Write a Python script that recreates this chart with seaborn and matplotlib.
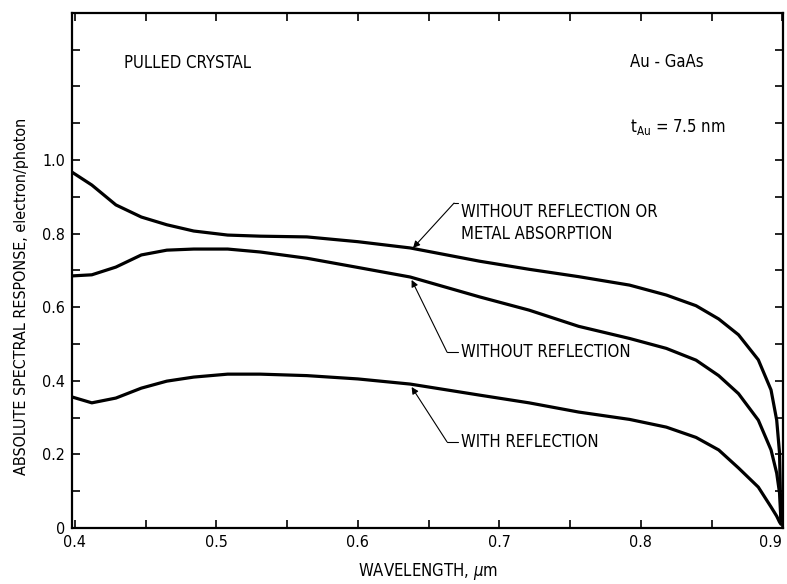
import matplotlib
matplotlib.use('Agg')
import matplotlib.pyplot as plt
import numpy as np
import pandas as pd
import seaborn as sns

sns.set_style('ticks', {'axes.edgecolor': 'black', 'text.color': 'black',
                        'axes.labelcolor': 'black', 'xtick.color': 'black',
                        'ytick.color': 'black'})
plt.rcParams['font.family'] = ['DejaVu Sans']
plt.rcParams['font.stretch'] = 'condensed'

# values
wavelength = [0.398, 0.412, 0.429, 0.447, 0.465, 0.484, 0.508, 0.531, 0.564, 0.600,
              0.637, 0.686, 0.721, 0.756, 0.792, 0.818, 0.839, 0.855, 0.869, 0.883,
              0.892, 0.896, 0.898, 0.899]
no_refl_no_abs = [0.967, 0.932, 0.878, 0.845, 0.824, 0.807, 0.796, 0.793, 0.791, 0.778,
                  0.761, 0.725, 0.703, 0.683, 0.660, 0.633, 0.604, 0.568, 0.525, 0.457,
                  0.375, 0.293, 0.204, 0.020]
no_refl = [0.685, 0.688, 0.709, 0.742, 0.755, 0.758, 0.758, 0.750, 0.733, 0.708,
           0.682, 0.628, 0.592, 0.548, 0.515, 0.488, 0.456, 0.414, 0.365, 0.293,
           0.212, 0.149, 0.095, 0.020]
with_refl = [0.356, 0.340, 0.353, 0.380, 0.399, 0.410, 0.418, 0.418, 0.414, 0.405,
             0.391, 0.361, 0.340, 0.315, 0.295, 0.274, 0.246, 0.212, 0.163, 0.111,
             0.057, 0.032, 0.016, 0.010]

df = pd.DataFrame({'wavelength': wavelength,
                   'a': no_refl_no_abs,
                   'b': no_refl,
                   'c': with_refl}).melt(id_vars='wavelength', var_name='curve',
                                         value_name='response')

fig = plt.figure(figsize=(7.87, 5.84), dpi=100)
ax = fig.add_axes([0.0915, 0.096, 0.9035, 0.882])

sns.lineplot(data=df, x='wavelength', y='response', hue='curve', units='curve',
             estimator=None, sort=False, palette=['black'] * 3, linewidth=2.3,
             legend=False, ax=ax)

ax.set_xlim(0.398, 0.9005)
ax.set_ylim(0, 1.4)
ax.set_xticks([0.4, 0.5, 0.6, 0.7, 0.8, 0.9])
ax.set_xticklabels(['0.4', '0.5', '0.6', '0.7', '0.8', '0.9'])
ax.get_xticklabels()[-1].set_horizontalalignment('right')
ax.set_xticks(np.arange(0.45, 0.9, 0.1), minor=True)
ax.set_yticks([0, 0.2, 0.4, 0.6, 0.8, 1.0])
ax.set_yticklabels(['0', '0.2', '0.4', '0.6', '0.8', '1.0'])
ax.set_yticks([0.1, 0.3, 0.5, 0.7, 0.9, 1.1, 1.2, 1.3], minor=True)
ax.tick_params(which='both', direction='in', top=True, right=True, length=6,
               width=1.2, labelsize=11.5, pad=5)
for s in ax.spines.values():
    s.set_linewidth(1.6)

ax.set_xlabel('WAVELENGTH, $\\mu$m', fontsize=12, labelpad=8)
ax.set_ylabel('ABSOLUTE SPECTRAL RESPONSE, electron/photon', fontsize=11.5)
ax.yaxis.set_label_coords(-0.06, 0.45)

ax.text(0.435, 1.264, 'PULLED CRYSTAL', fontsize=12, va='center')
ax.text(0.792, 1.266, 'Au - GaAs', fontsize=12, va='center')
ax.text(0.792, 1.09, '$\\mathregular{t_{Au}}$ = 7.5 nm', fontsize=12, va='center')

# leader labels: (text x, text y, corner x, tip x, tip y, text)
labels = [
    (0.673, 0.883, 0.668, 0.639, 0.761, 'WITHOUT REFLECTION OR\nMETAL ABSORPTION'),
    (0.673, 0.478, 0.663, 0.638, 0.674, 'WITHOUT REFLECTION'),
    (0.673, 0.234, 0.663, 0.638, 0.383, 'WITH REFLECTION'),
]
for tx, ty, cx, px, py, txt in labels:
    ax.text(tx, ty, txt, fontsize=12, va='top' if '\n' in txt else 'center',
            linespacing=1.25)
    ax.plot([cx, tx - 0.002], [ty, ty], color='black', lw=0.8)
    ax.annotate('', xy=(px, py), xytext=(cx, ty),
                arrowprops=dict(arrowstyle='-|>', color='black', lw=0.8,
                                mutation_scale=10, shrinkA=0, shrinkB=0))

fig.savefig('out.png', dpi=100)
